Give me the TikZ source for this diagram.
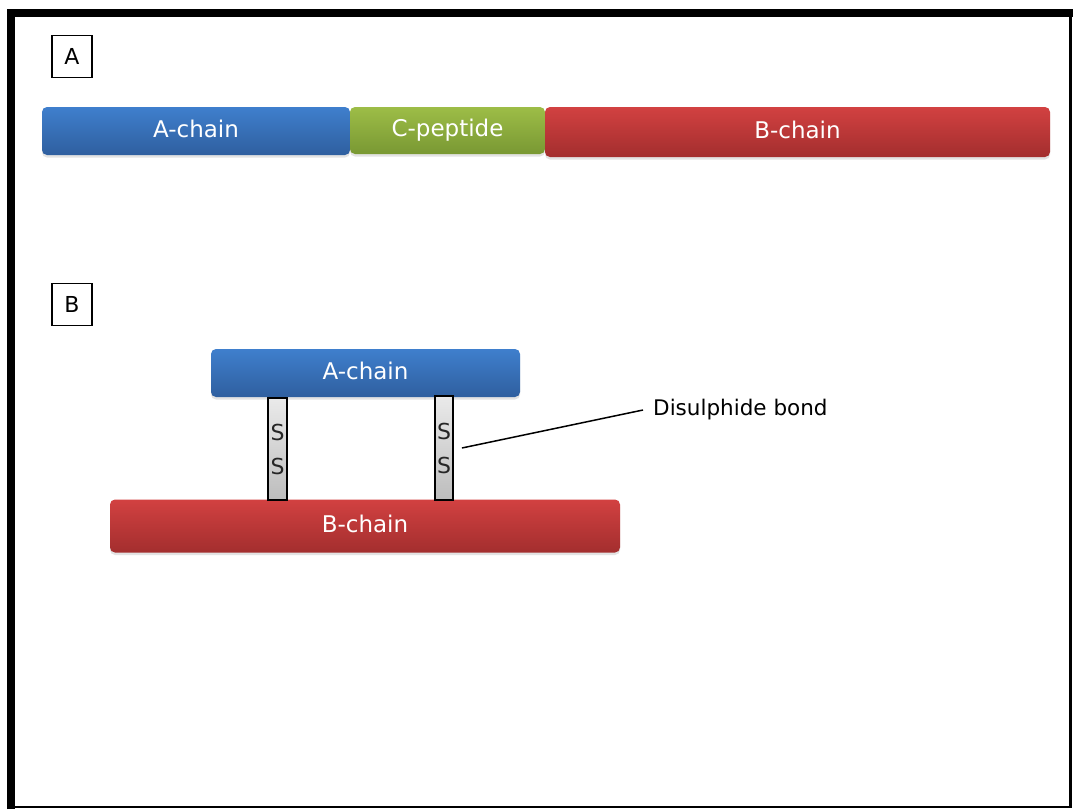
\documentclass[tikz,border=0pt]{standalone}
\usepackage{fontspec}
\setmainfont{DejaVu Sans}
\usetikzlibrary{shadows}
\definecolor{blueT}{HTML}{3F7FCD}
\definecolor{blueB}{HTML}{2F5F9F}
\definecolor{redT}{HTML}{D24141}
\definecolor{redB}{HTML}{A32E2E}
\definecolor{greenT}{HTML}{9DBD47}
\definecolor{greenB}{HTML}{799833}
\definecolor{ssT}{HTML}{EAEAEA}
\definecolor{ssB}{HTML}{BDBDBD}
\begin{document}
\begin{tikzpicture}[x=1pt,y=-1pt,
  bar/.style={rounded corners=5pt, inner sep=0pt, text=white,
    font=\fontsize{23}{27}\selectfont, text height=17pt, text depth=5pt,
    drop shadow={opacity=0.22, shadow xshift=0pt, shadow yshift=-2.5pt}},
  bluebar/.style={bar, top color=blueT, bottom color=blueB},
  redbar/.style={bar, top color=redT, bottom color=redB},
  greenbar/.style={bar, top color=greenT, bottom color=greenB},
  ssbox/.style={draw=black, line width=1.8pt, top color=ssT, bottom color=ssB,
    inner sep=0pt, align=center, font=\fontsize{22}{34}\selectfont, text=black!85},
  tagbox/.style={draw=black, line width=1.6pt, fill=white, inner sep=0pt,
    minimum width=40pt, minimum height=42pt, font=\fontsize{22}{26}\selectfont},
  note/.style={font=\fontsize{21.5}{25}\selectfont, inner ysep=2pt, inner xsep=10pt}]
\useasboundingbox (0,0) rectangle (1073,809);
\fill[white] (0,0) rectangle (1073,809);
% frame
\draw[line width=2.5pt] (1070.5,13) -- (1070.5,807) -- (11,807);
\draw[line width=8pt] (11,809) -- (11,13) -- (1073,13);
% part A
\node[tagbox] (tagA) at (72,56.5) {A};
\node[bluebar, minimum width=308pt, minimum height=48pt] (a1) at (196,131) {A-chain};
\node[greenbar, minimum width=195pt, minimum height=47pt] (c1) at (447.5,130.5) {C-peptide};
\node[redbar, minimum width=505pt, minimum height=50pt] (b1) at (797.5,132) {B-chain};
% part B
\node[tagbox] (tagB) at (72,304.5) {B};
\node[bluebar, minimum width=309pt, minimum height=48pt] (a2) at (365.5,373) {A-chain};
\node[redbar, minimum width=510pt, minimum height=53pt] (b2) at (365,526) {B-chain};
\node[ssbox, minimum width=19pt, minimum height=102pt] (ss1) at (277.5,449) {S\\S};
\node[ssbox, minimum width=18pt, minimum height=104pt] (ss2) at (444,448) {S\\S};
\node[note, anchor=west] (lbl) at (643,410) {Disulphide bond};
\coordinate (ssp) at ([xshift=8pt]ss2.east);
\draw[line width=1.5pt] (ssp) -- (lbl.west);
\end{tikzpicture}
\end{document}
